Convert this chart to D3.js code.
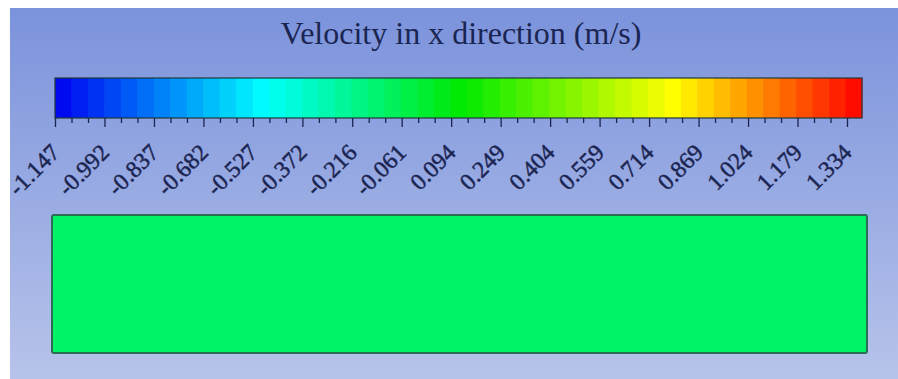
<!DOCTYPE html>
<html>
<head>
<meta charset="utf-8">
<script src="https://cdn.jsdelivr.net/npm/d3@7"></script>
<style>
  html, body { margin: 0; padding: 0; background: #ffffff; }
  svg { display: block; }
</style>
</head>
<body>
<script>
// Legend title and tick labels of the x-velocity contour
const titleText = "Velocity in x direction (m/s)";
const tickLabels = ["-1.147", "-0.992", "-0.837", "-0.682", "-0.527", "-0.372", "-0.216", "-0.061",
                    "0.094", "0.249", "0.404", "0.559", "0.714", "0.869", "1.024", "1.179", "1.334"];
// Range covered by the colour bar
const rangeMin = -1.147;
const rangeMax = 1.381;
// Number of colour bands and minor subdivisions per labelled interval
const bandCount = 49;
const minorPerMajor = 3;
// Rainbow colour map stops (fractions of the range) and colours
const mapStops = [0, 0.26, 0.505, 0.765, 1];
const mapColors = ["#0000f0", "#00ffff", "#00ea00", "#ffff00", "#ff0000"];
// Uniform x-velocity over the domain
const fieldValue = -0.12;

const W = 898, H = 379;
const svg = d3.select("body").append("svg").attr("width", W).attr("height", H);

// Background panel with vertical gradient
const defs = svg.append("defs");
const bg = defs.append("linearGradient").attr("id", "bg").attr("x1", 0).attr("y1", 0).attr("x2", 0).attr("y2", 1);
bg.append("stop").attr("offset", "0%").attr("stop-color", "#7b93dc");
bg.append("stop").attr("offset", "100%").attr("stop-color", "#b7c3ea");
svg.append("rect").attr("x", 10).attr("y", 8).attr("width", W - 10).attr("height", H - 8).attr("fill", "url(#bg)");

// Scales
const x = d3.scaleLinear().domain([rangeMin, rangeMax]).range([55, 862]);
const color = d3.scaleLinear()
  .domain(mapStops.map(f => rangeMin + f * (rangeMax - rangeMin)))
  .range(mapColors)
  .interpolate(d3.interpolateRgb)
  .clamp(true);

// Title
svg.append("text")
  .attr("x", 461).attr("y", 44)
  .attr("text-anchor", "middle")
  .attr("font-family", "'Liberation Serif', 'Times New Roman', serif")
  .attr("font-size", 32)
  .attr("fill", "#1b2552")
  .text(titleText);

// Colour bar bands
const barTop = 78, barBottom = 118;
const bandEdges = d3.range(bandCount + 1).map(i => rangeMin + i * (rangeMax - rangeMin) / bandCount);
svg.append("g").selectAll("rect")
  .data(d3.range(bandCount))
  .join("rect")
  .attr("x", i => x(bandEdges[i]))
  .attr("y", barTop)
  .attr("width", i => x(bandEdges[i + 1]) - x(bandEdges[i]) + 0.5)
  .attr("height", barBottom - barTop)
  .attr("fill", i => color((bandEdges[i] + bandEdges[i + 1]) / 2));
svg.append("rect")
  .attr("x", x(rangeMin)).attr("y", barTop)
  .attr("width", x(rangeMax) - x(rangeMin)).attr("height", barBottom - barTop)
  .attr("fill", "none").attr("stroke", "#1f3a3a").attr("stroke-width", 1.2);

// Ticks: labelled values plus minor subdivisions
const majorVals = tickLabels.map(Number);
const step = (majorVals[majorVals.length - 1] - majorVals[0]) / (majorVals.length - 1);
const minorVals = [];
majorVals.forEach(v => {
  for (let k = 1; k < minorPerMajor; k++) {
    const m = v + k * step / minorPerMajor;
    if (m < rangeMax) minorVals.push(m);
  }
});
const axisMajor = d3.axisBottom(x).tickValues(majorVals).tickSize(9).tickFormat("").tickSizeOuter(0);
const axisMinor = d3.axisBottom(x).tickValues(minorVals).tickSize(5).tickFormat("").tickSizeOuter(0);
[axisMajor, axisMinor].forEach(ax => {
  const g = svg.append("g").attr("transform", `translate(0,${barBottom})`).call(ax);
  g.select(".domain").remove();
  g.selectAll("line").attr("stroke", "#1b2552").attr("stroke-width", 1.3);
});

// Rotated tick labels
svg.append("g").selectAll("text")
  .data(tickLabels)
  .join("text")
  .attr("transform", d => `translate(${x(+d) + 6},${154}) rotate(-45)`)
  .attr("text-anchor", "end")
  .attr("font-family", "'Liberation Serif', 'Times New Roman', serif")
  .attr("font-size", 23.5)
  .attr("fill", "#1b2552")
  .attr("stroke", "#1b2552")
  .attr("stroke-width", 0.5)
  .text(d => d);

// Domain coloured by the x-velocity
svg.append("rect")
  .attr("x", 52).attr("y", 215)
  .attr("width", 867 - 52).attr("height", 353 - 215)
  .attr("rx", 2).attr("ry", 2)
  .attr("fill", color(fieldValue))
  .attr("stroke", "#2b6e55").attr("stroke-width", 2);
</script>
</body>
</html>
